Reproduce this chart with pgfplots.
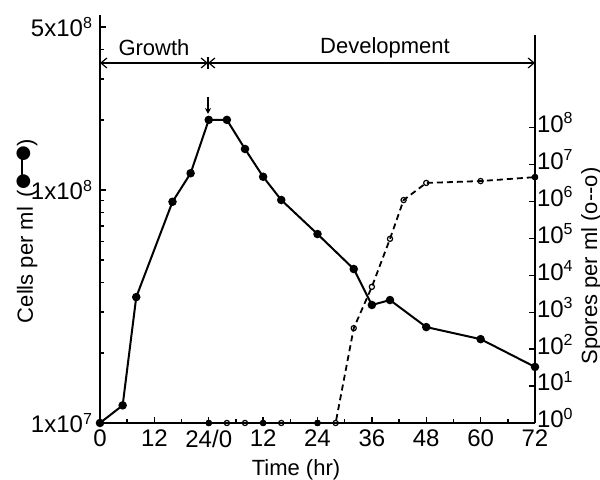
\documentclass[border=0pt]{standalone}
\usepackage{fontspec}
\setmainfont{Liberation Sans}
\newfontfamily\dejavu{DejaVu Sans}
\usepackage{pgfplots}
\pgfplotsset{compat=1.18}
\usetikzlibrary{arrows.meta}

\newcommand{\dotkey}{\raisebox{2.3pt}{\dejavu\fontsize{9}{9}\selectfont ●}}

\begin{document}
\begin{tikzpicture}
% cells per ml (left axis)
\begin{axis}[
    at={(0,0)}, anchor=south west,
    scale only axis,
    width=217.5pt, height=204pt,
    xmin=0, xmax=96,
    ymode=log, ymin=1e7, ymax=5.64e8,
    axis x line*=bottom, axis y line*=left,
    axis line style={-, line width=0.8pt},
    xtick={0,12,...,96},
    xticklabels={0,12,24/0,12,24,36,48,60,72},
    minor xtick={6,18,...,90},
    ytick={1e7,1e8,5e8},
    yticklabels={1x10\textsuperscript{7},1x10\textsuperscript{8},5x10\textsuperscript{8}},
    minor ytick={2e7,3e7,4e7,5e7,6e7,7e7,8e7,9e7,2e8,3e8,4e8},
    tick align=inside,
    major tick length=3pt, minor tick length=2pt,
    tick style={line width=0.7pt, black},
    ticklabel style={font=\fontsize{12}{12}\selectfont},
    clip=false,
]
\addplot[black, line width=1pt, mark=*, mark size=1.6pt] coordinates {
  (0,1e7) (5,1.19e7) (8,3.47e7) (16,8.9e7) (20,1.18e8) (24,2.0e8)
  (28,2.0e8) (32,1.50e8) (36,1.14e8) (40,9.06e7) (48,6.47e7)
  (56,4.58e7) (60,3.21e7) (64,3.37e7) (72,2.58e7) (84,2.29e7) (96,1.74e7)
};
\end{axis}
% spores per ml (right axis)
\begin{axis}[
    at={(0,0)}, anchor=south west,
    scale only axis,
    width=217.5pt, height=194pt,
    xmin=0, xmax=96,
    ymode=log, ymin=1, ymax=3.27e10,
    axis x line=none, axis y line*=right,
    axis line style={-, line width=0.8pt},
    ytick={1,1e1,1e2,1e3,1e4,1e5,1e6,1e7,1e8},
    yticklabels={10\textsuperscript{0},10\textsuperscript{1},10\textsuperscript{2},10\textsuperscript{3},10\textsuperscript{4},10\textsuperscript{5},10\textsuperscript{6},10\textsuperscript{7},10\textsuperscript{8}},
    tick align=inside,
    major tick length=3pt, minor tick length=0pt,
    tick style={line width=0.7pt, black},
    ticklabel style={font=\fontsize{12}{12}\selectfont},
    yticklabel style={inner sep=0.8pt, yshift=2.5pt},
    clip=false,
]
\addplot[black, line width=0.9pt, dash pattern=on 3pt off 2pt, mark=o,
  mark size=1.3pt, mark options={solid, fill=white, line width=0.6pt}] coordinates {
  (24,1) (28,1) (32,1) (36,1) (40,1) (48,1) (52,1)
  (56,372) (60,4900) (64,9.8e4) (67,1.1e6) (72,3.2e6) (84,3.6e6) (96,4.6e6)
};
\addplot[only marks, black, mark=*, mark size=1.4pt] coordinates {
  (24,1) (36,1) (48,1) (96,4.6e6)
};
\end{axis}
% annotations
\begin{scope}[line width=0.6pt, font=\fontsize{11}{11}\selectfont]
\draw[{Straight Barb[length=3pt,width=5pt]}-{Straight Barb[length=3pt,width=5pt]}]
  (0,180pt) -- (54pt,180pt);
\draw[{Straight Barb[length=3pt,width=5pt]}-{Straight Barb[length=3pt,width=5pt]}]
  (54pt,180pt) -- (217.5pt,180pt);
\draw (54pt,177pt) -- (54pt,183pt);
\draw[-{Stealth[length=3pt,width=3pt]}] (54pt,163pt) -- (54pt,154.5pt);
\node at (27pt,187.5pt) {Growth};
\node at (142.5pt,187.5pt) {Development};
\node at (98pt,-23.5pt) {Time (hr)};
\node[rotate=90, anchor=base, inner sep=0pt] at (-33.5pt,96pt)
  {Cells per ml \,({}\dotkey\kern-0.25em\rule[5.1pt]{1.05em}{0.9pt}\kern-0.25em\dotkey)};
\node[rotate=90, anchor=base, inner sep=0pt] at (248.5pt,78.5pt) {Spores per ml (o-{}-o)};
\end{scope}
\pgfresetboundingbox
\path (-50pt,-28.5pt) rectangle (250pt,211.5pt);
\end{tikzpicture}
\end{document}
